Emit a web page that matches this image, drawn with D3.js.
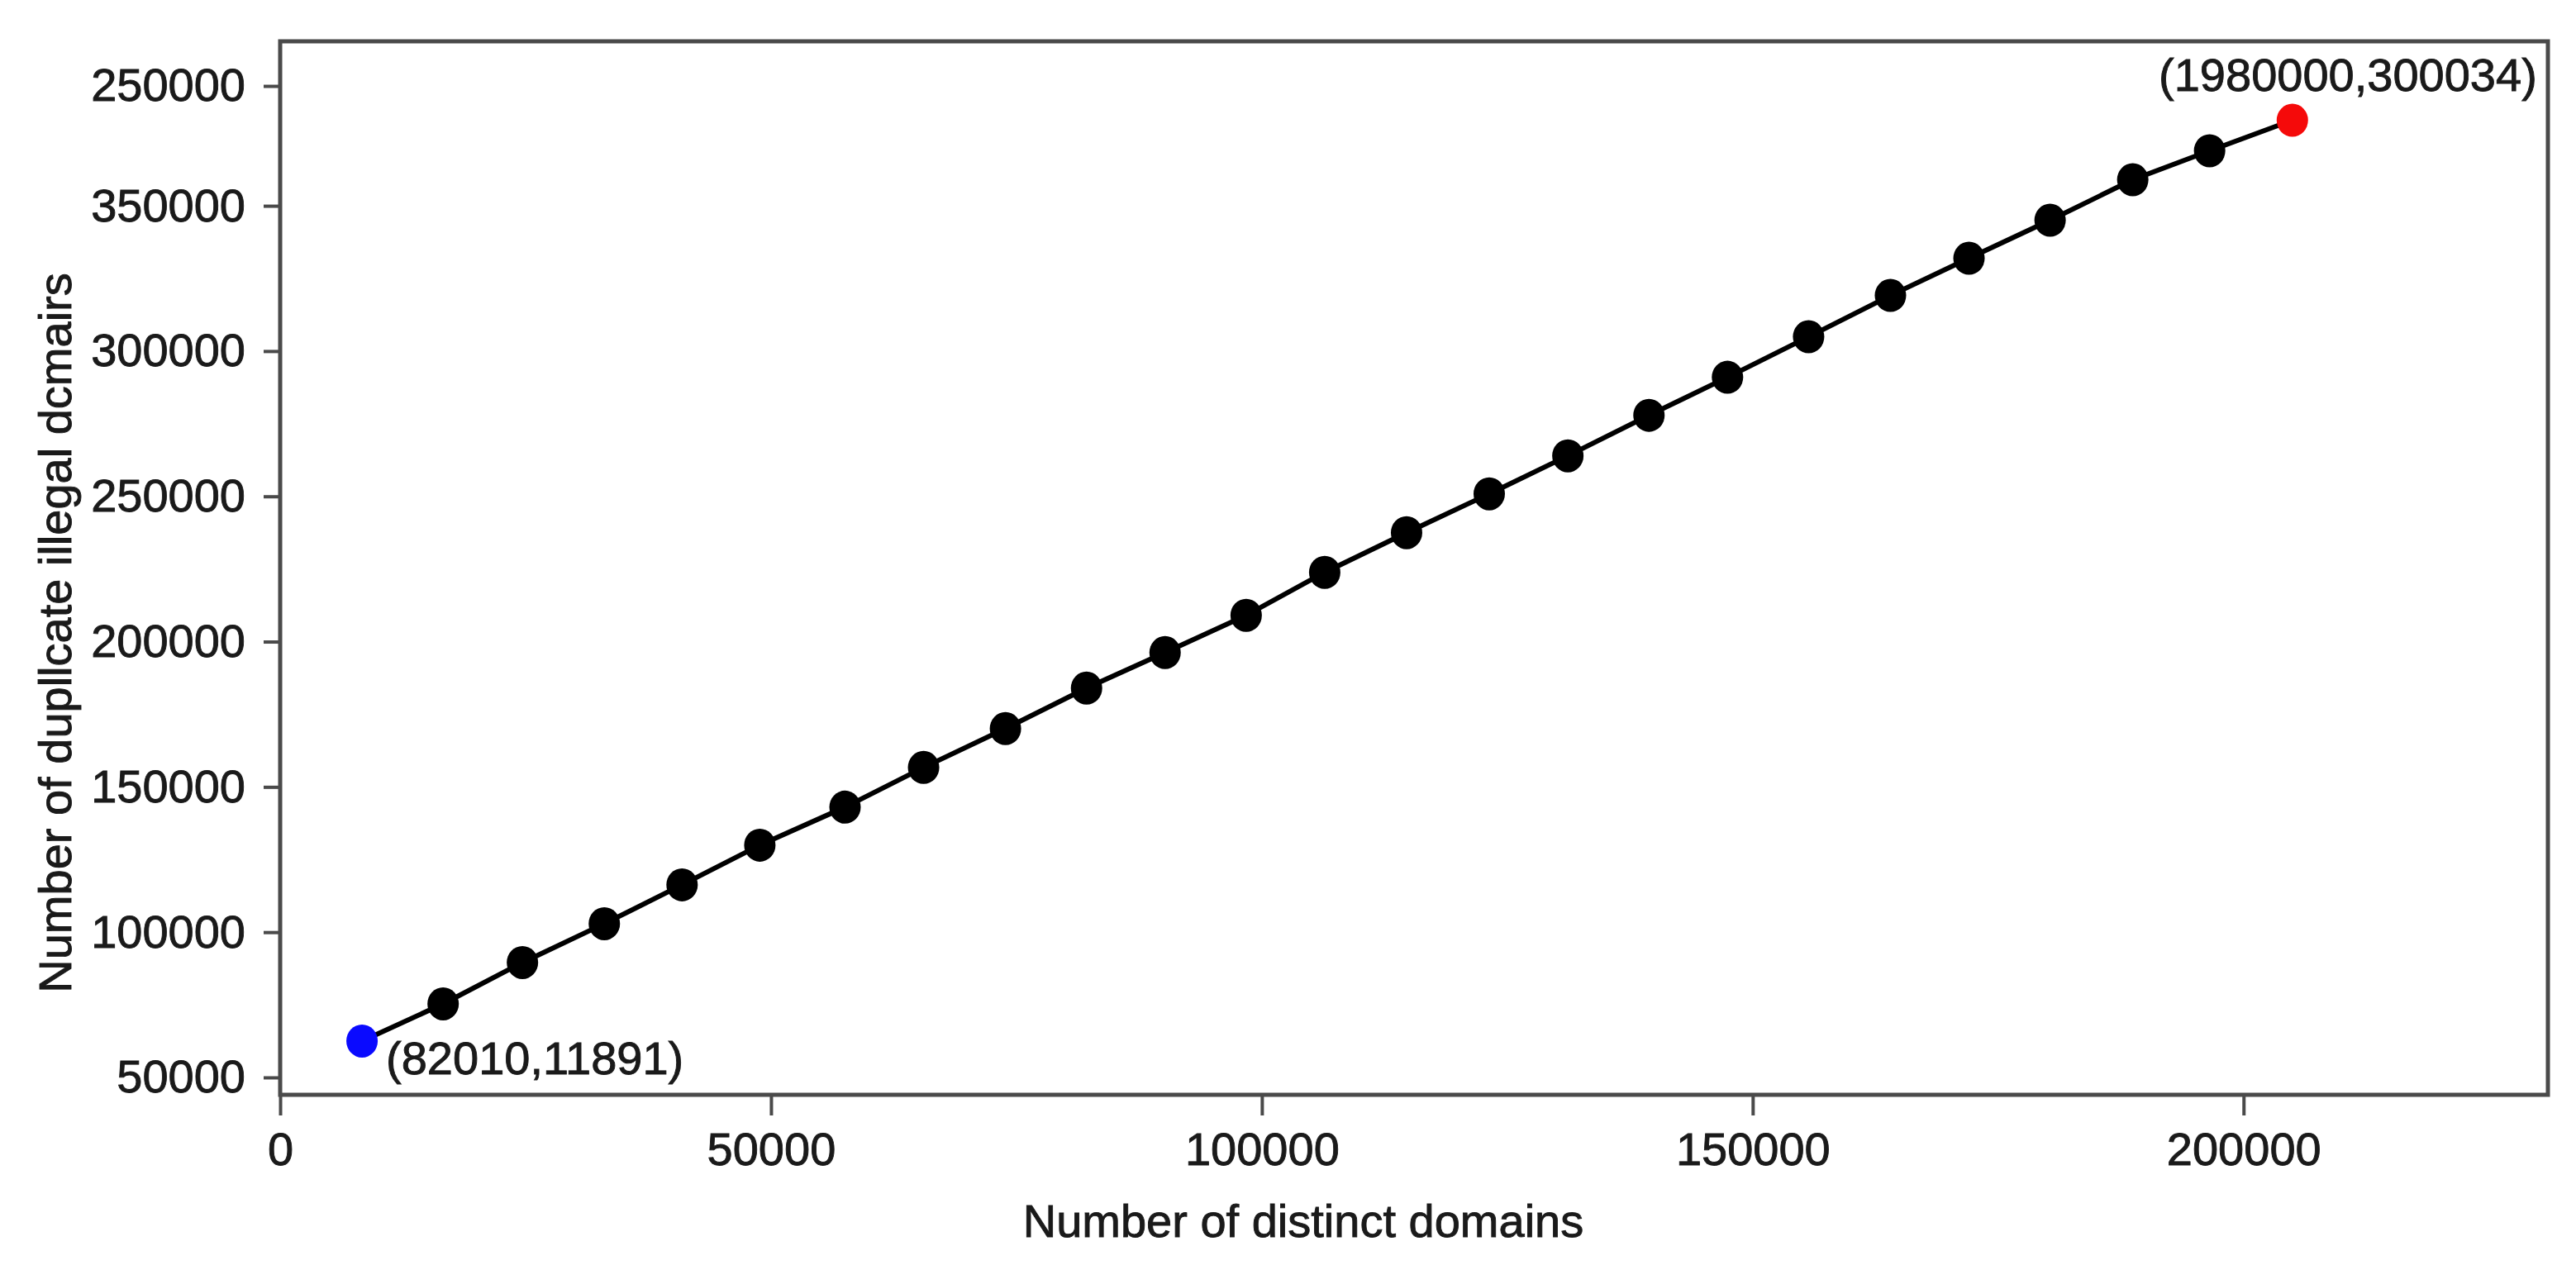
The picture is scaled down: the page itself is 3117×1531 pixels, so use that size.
<!DOCTYPE html>
<html>
<head>
<meta charset="utf-8">
<script src="https://cdn.jsdelivr.net/npm/d3@7"></script>
<style>
  body { margin: 0; background: #fff; }
  svg { display: block; font-family: "Liberation Sans", Arial, sans-serif; }
  svg text { fill: #1a1a1a; stroke: #1a1a1a; stroke-width: 0.9px; }
  .axis text { font-size: 56px; }
  .axis line { stroke: #4a4a4a; stroke-width: 4; }
</style>
</head>
<body>
<svg id="chart"></svg>
<script>
// values
var xValues = [8340, 16600, 24680, 33020, 40940, 48860, 57540, 65540, 73880, 82140,
               90140, 98400, 106400, 114740, 123160, 131170, 139430, 147430, 155690,
               164030, 172030, 180290, 188710, 196540, 204970];
var yValues = [62520, 75320, 89550, 102920, 116290, 129940, 143030, 156690, 170060, 184000,
               196230, 209040, 223830, 237490, 250860, 263950, 277890, 290980, 304920,
               319140, 331940, 345030, 358970, 368930, 379450];

var xTickValues = [0, 50000, 100000, 150000, 200000];
var xTickLabels = ["0", "50000", "100000", "150000", "200000"];
// the top label of the original reads "250000" although it sits above 350000
var yTickValues = [50000, 100000, 150000, 200000, 250000, 300000, 350000, 391250];
var yTickLabels = ["50000", "100000", "150000", "200000", "250000", "300000", "350000", "250000"];

var startLabel = "(82010,11891)";
var endLabel = "(1980000,300034)";
var xTitle = "Number of distinct domains";
var yTitle = "Number of dupllcate illegal dcmairs";

var width = 3117, height = 1531;
// plot frame in page pixels (window.top is reserved, so prefixed names)
var plotLeft = 339, plotRight = 3083, plotTop = 50, plotBottom = 1325;

var svg = d3.select('#chart').attr('width', width).attr('height', height);

svg.append('rect')
    .attr('width', width).attr('height', height)
    .style('fill', 'white');

var x = d3.scaleLinear().domain([0, 231000]).range([plotLeft, plotRight]);
var y = d3.scaleLinear().domain([44025, 406615]).range([plotBottom, plotTop]);

var points = xValues.map(function(d, i) { return {x: d, y: yValues[i], i: i}; });

// axes (domain paths removed, frame drawn separately)
var gx = svg.append('g')
    .attr('class', 'axis')
    .attr('transform', 'translate(0,' + plotBottom + ')')
    .call(d3.axisBottom(x)
        .tickValues(xTickValues)
        .tickFormat(function(d, i) { return xTickLabels[i]; })
        .tickSize(25)
        .tickPadding(20));
gx.select('.domain').remove();

var gy = svg.append('g')
    .attr('class', 'axis')
    .attr('transform', 'translate(' + plotLeft + ',0)')
    .call(d3.axisLeft(y)
        .tickValues(yTickValues)
        .tickFormat(function(d, i) { return yTickLabels[i]; })
        .tickSize(20)
        .tickPadding(22));
gy.select('.domain').remove();

// frame
svg.append('rect')
    .attr('x', plotLeft).attr('y', plotTop)
    .attr('width', plotRight - plotLeft).attr('height', plotBottom - plotTop)
    .style('fill', 'none')
    .style('stroke', '#4a4a4a')
    .style('stroke-width', 5);

// line + markers
var line = d3.line()
    .x(function(d) { return x(d.x); })
    .y(function(d) { return y(d.y); });

svg.append('path')
    .datum(points)
    .attr('d', line)
    .style('fill', 'none')
    .style('stroke', '#000')
    .style('stroke-width', 6);

svg.append('g')
    .selectAll('ellipse')
    .data(points)
    .enter().append('ellipse')
    .attr('cx', function(d) { return x(d.x); })
    .attr('cy', function(d) { return y(d.y); })
    .attr('rx', 19)
    .attr('ry', 20)
    .style('fill', function(d) {
        if (d.i === 0) return '#0a0aff';
        if (d.i === points.length - 1) return '#f50a0a';
        return '#000';
    });

// point annotations
var first = points[0], last = points[points.length - 1];
svg.append('text')
    .attr('x', x(first.x) + 29)
    .attr('y', y(first.y) + 40)
    .attr('font-size', 56)
    .text(startLabel);

svg.append('text')
    .attr('x', x(last.x) + 296)
    .attr('y', y(last.y) - 36)
    .attr('text-anchor', 'end')
    .attr('font-size', 56)
    .text(endLabel);

// axis titles
svg.append('text')
    .attr('x', 1577)
    .attr('y', 1497)
    .attr('text-anchor', 'middle')
    .attr('font-size', 56)
    .text(xTitle);

svg.append('text')
    .attr('transform', 'translate(86,766) rotate(-90)')
    .attr('text-anchor', 'middle')
    .attr('font-size', 56)
    .text(yTitle);
</script>
</body>
</html>
